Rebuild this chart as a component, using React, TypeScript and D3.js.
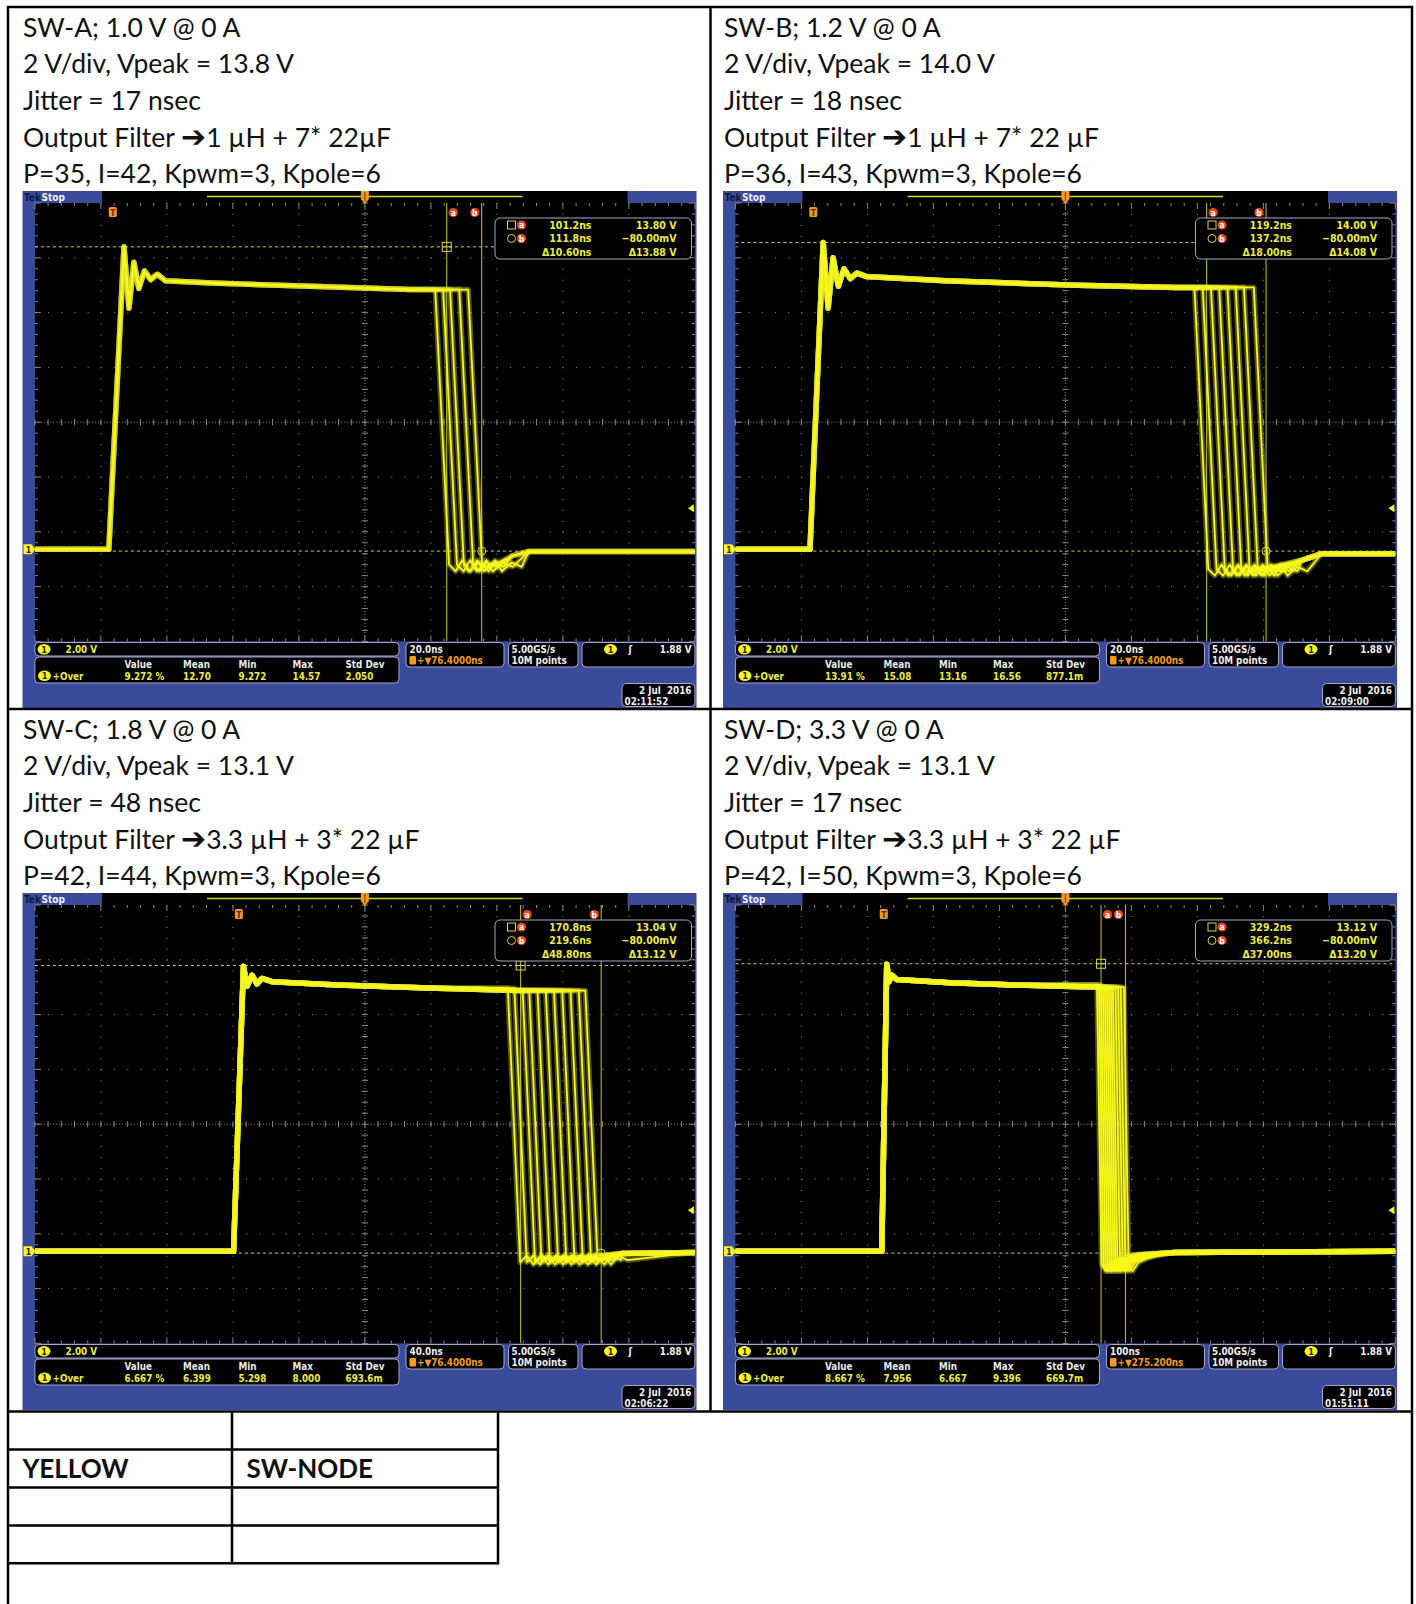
import React from "react";
import * as d3 from "d3";

type Pt = [number, number];

// ---------------- captions ----------------
const captionA = ["SW-A; 1.0 V @ 0 A", "2 V/div, Vpeak = 13.8 V", "Jitter = 17 nsec", "1 µH + 7* 22µF", "P=35, I=42, Kpwm=3, Kpole=6"];
const captionB = ["SW-B; 1.2 V @ 0 A", "2 V/div, Vpeak = 14.0 V", "Jitter = 18 nsec", "1 µH + 7* 22 µF", "P=36, I=43, Kpwm=3, Kpole=6"];
const captionC = ["SW-C; 1.8 V @ 0 A", "2 V/div, Vpeak = 13.1 V", "Jitter = 48 nsec", "3.3 µH + 3* 22 µF", "P=42, I=44, Kpwm=3, Kpole=6"];
const captionD = ["SW-D; 3.3 V @ 0 A", "2 V/div, Vpeak = 13.1 V", "Jitter = 17 nsec", "3.3 µH + 3* 22 µF", "P=42, I=50, Kpwm=3, Kpole=6"];

// ---------------- screen scales ----------------
const voltsPerDivScreen = 2.5;
const groundDivsFromTop = 6.32;
const triggerLevel = 1.88;

// ---------------- SW-A ----------------
const tDivA = 20, delayA = 76.4;
const riseA: Pt[] = [[-23.6, 0.0], [-1.2, 0.0], [3.4, 13.8], [4.9, 11.0], [6.4, 13.1], [7.9, 11.9], [9.6, 12.7], [11.5, 12.3], [13.5, 12.55], [16, 12.25], [30, 12.15], [60, 12.0], [90, 11.85], [115, 11.8]];
const fallsA = [97.7, 100.1, 102.2, 105.0, 107.7];
const fallDurA = 4.2;
const postA: Pt[] = [[0, -0.7], [2, -1.0], [4, -0.5], [6, -1.0], [9, -0.6], [12, -0.8]];
const tailA: Pt[] = [[121, -0.3], [126, -0.1], [176.4, -0.1]];
const cursorTA = [101.2, 111.8];
const cursorVA = [13.8, -0.08];
const readoutA = ["101.2ns", "111.8ns", "Δ10.60ns", "13.80 V", "−80.00mV", "Δ13.88 V"];
const measA = ["9.272 %", "12.70", "9.272", "14.57", "2.050"];
const hzA = ["20.0ns", "+▼76.4000ns"];
const dateA = ["2 Jul  2016", "02:11:52"];

// ---------------- SW-B ----------------
const tDivB = 20, delayB = 76.4;
const riseB: Pt[] = [[-23.6, 0.0], [-1.0, 0.0], [3.0, 14.0], [4.5, 11.0], [6.0, 13.3], [7.6, 12.0], [9.3, 12.8], [11.2, 12.35], [13.2, 12.6], [16, 12.45], [40, 12.25], [80, 12.05], [110, 11.95], [140, 11.9]];
const fallsB = [115.5, 118, 120.5, 123, 125.5, 128, 130.5, 133.5];
const fallDurB = 4.2;
const postB: Pt[] = [[0, -0.9], [2, -1.2], [4, -0.7], [6, -1.2], [9, -0.8], [12, -1.0]];
const tailB: Pt[] = [[148, -0.5], [154, -0.2], [176.4, -0.2]];
const cursorTB = [119.2, 137.2];
const cursorVB = [14.0, -0.08];
const readoutB = ["119.2ns", "137.2ns", "Δ18.00ns", "14.00 V", "−80.00mV", "Δ14.08 V"];
const measB = ["13.91 %", "15.08", "13.16", "16.56", "877.1m"];
const hzB = ["20.0ns", "+▼76.4000ns"];
const dateB = ["2 Jul  2016", "02:09:00"];

// ---------------- SW-C ----------------
const tDivC = 40, delayC = 76.4;
const riseC: Pt[] = [[-123.6, 0.0], [-3.2, 0.0], [2.8, 13.0], [5, 12.1], [8, 12.6], [11, 12.2], [14, 12.45], [20, 12.3], [60, 12.15], [120, 12.0], [170, 11.9], [215, 11.85]];
const fallsC = [163, 167, 172, 176, 181, 186, 191, 196, 201, 206, 210];
const fallDurC = 7.5;
const postC: Pt[] = [[0, -0.5], [4, -0.2], [8, -0.6], [13, -0.2], [18, -0.4]];
const tailC: Pt[] = [[232, -0.1], [276.4, -0.05]];
const cursorTC = [170.8, 219.6];
const cursorVC = [13.04, -0.08];
const readoutC = ["170.8ns", "219.6ns", "Δ48.80ns", "13.04 V", "−80.00mV", "Δ13.12 V"];
const measC = ["6.667 %", "6.399", "5.298", "8.000", "693.6m"];
const hzC = ["40.0ns", "+▼76.4000ns"];
const dateC = ["2 Jul  2016", "02:06:22"];

// ---------------- SW-D ----------------
const tDivD = 100, delayD = 275.2;
const riseD: Pt[] = [[-224.8, 0.0], [-3, 0.0], [4.5, 13.1], [8, 12.3], [12, 12.6], [20, 12.4], [100, 12.25], [200, 12.15], [330, 12.05], [370, 12.0]];
const fallsD = [323, 326, 329, 332, 335, 338, 341, 344, 347, 351, 355, 359, 364];
const fallDurD = 7;
const postD: Pt[] = [[0, -0.6], [6, -0.9], [15, -0.5], [30, -0.3], [50, -0.15]];
const tailD: Pt[] = [[440, -0.05], [775.2, 0.0]];
const cursorTD = [329.2, 366.2];
const cursorVD = [13.12, -0.08];
const readoutD = ["329.2ns", "366.2ns", "Δ37.00ns", "13.12 V", "−80.00mV", "Δ13.20 V"];
const measD = ["8.667 %", "7.956", "6.667", "9.396", "669.7m"];
const hzD = ["100ns", "+▼275.200ns"];
const dateD = ["2 Jul  2016", "01:51:11"];

const measHeaders = ["Value", "Mean", "Min", "Max", "Std Dev"];
const legendRows = [["", ""], ["YELLOW", "SW-NODE"], ["", ""], ["", ""]];

// ---------------- layout ----------------
const PW = 674, PH = 517;
const GL = 12.4, GT = 12, DIVW = 66, DIVH = 54.8;
const GR = GL + 10 * DIVW, GB = GT + 8 * DIVH;
const VTOP = groundDivsFromTop * voltsPerDivScreen;
const VBOT = -(8 - groundDivsFromTop) * voltsPerDivScreen;
const BLUE = "#3b4b9b";
const YEL = "#f8f81a";
const TXTY = "#ecec40";
const ORANGE = "#f39a1e";
const RED = "#e8461e";
const BOXSTROKE = "#a3a8c8";
const FS = "'DejaVu Sans Condensed', 'Liberation Sans Narrow', sans-serif";
const FD = "Lato, 'Open Sans', sans-serif";

function buildTrace(rise: Pt[], ts: number, dur: number, post: Pt[], tail: Pt[]): Pt[] {
  const before = rise.filter((d) => d[0] < ts);
  const top = before[before.length - 1][1];
  const te = ts + dur;
  const after: Pt[] = post.map((d) => [te + d[0], d[1]] as Pt);
  const last = after[after.length - 1][0];
  return [...before, [ts, top], ...after, ...tail.filter((d) => d[0] > last)];
}

type Cfg = {
  id: string; tdiv: number; delay: number; rise: Pt[]; falls: number[]; fallDur: number; post: Pt[]; tail: Pt[];
  ct: number[]; cv: number[]; readout: string[]; meas: string[]; hz: string[]; date: string[];
};

const panels: { x: number; y: number; cfg: Cfg }[] = [
  { x: 22.5, y: 191, cfg: { id: "A", tdiv: tDivA, delay: delayA, rise: riseA, falls: fallsA, fallDur: fallDurA, post: postA, tail: tailA, ct: cursorTA, cv: cursorVA, readout: readoutA, meas: measA, hz: hzA, date: dateA } },
  { x: 723, y: 191, cfg: { id: "B", tdiv: tDivB, delay: delayB, rise: riseB, falls: fallsB, fallDur: fallDurB, post: postB, tail: tailB, ct: cursorTB, cv: cursorVB, readout: readoutB, meas: measB, hz: hzB, date: dateB } },
  { x: 22.5, y: 893, cfg: { id: "C", tdiv: tDivC, delay: delayC, rise: riseC, falls: fallsC, fallDur: fallDurC, post: postC, tail: tailC, ct: cursorTC, cv: cursorVC, readout: readoutC, meas: measC, hz: hzC, date: dateC } },
  { x: 723, y: 893, cfg: { id: "D", tdiv: tDivD, delay: delayD, rise: riseD, falls: fallsD, fallDur: fallDurD, post: postD, tail: tailD, ct: cursorTD, cv: cursorVD, readout: readoutD, meas: measD, hz: hzD, date: dateD } },
];

function Badge({ cx, cy }: { cx: number; cy: number }) {
  return (
    <g>
      <ellipse cx={cx} cy={cy} rx={6.5} ry={5.2} fill={YEL} />
      <text x={cx} y={cy + 3.3} fontSize={9} fontWeight="bold" fill="#222" textAnchor="middle">1</text>
    </g>
  );
}

function RedMark({ cx, cy, ch }: { cx: number; cy: number; ch: string }) {
  return (
    <g>
      <circle cx={cx} cy={cy} r={4.6} fill={RED} />
      <text x={cx} y={cy + 3} fontSize={8.5} fontWeight="bold" fill="#fff" textAnchor="middle">{ch}</text>
    </g>
  );
}

function Scope({ x0, y0, p }: { x0: number; y0: number; p: Cfg }) {
  const xs = d3.scaleLinear().domain([p.delay - 5 * p.tdiv, p.delay + 5 * p.tdiv]).range([GL, GR]);
  const ys = d3.scaleLinear().domain([VBOT, VTOP]).range([GB, GT]);
  const line = d3.line<Pt>().x((d) => xs(d[0])).y((d) => ys(d[1]));
  const traces = p.falls.map((ts) => buildTrace(p.rise, ts, p.fallDur, p.post, p.tail));
  const clipId = "clip" + p.id;
  const minW = DIVW / 5, minH = DIVH / 5;
  const cx = GL + 5 * DIVW, cy = GT + 4 * DIVH;
  const gridC = "#8a8a8a";
  const xa = xs(p.ct[0]), xb = xs(p.ct[1]);
  const ya = ys(p.cv[0]), yb = ys(p.cv[1]);
  const x0t = xs(0);
  const yTrig = ys(triggerLevel);
  const yGnd = ys(0);
  const colX = [102, 160.5, 216, 270, 323];
  return (
    <g transform={`translate(${x0},${y0})`} fontFamily={FS}>
      <defs>
        <clipPath id={clipId}>
          <rect x={GL} y={GT} width={GR - GL} height={GB - GT} />
        </clipPath>
      </defs>
      <rect width={PW} height={PH} fill={BLUE} />
      <rect x={GL} y={GT} width={GR - GL} height={GB - GT} fill="#000" />
      {/* top bar */}
      <rect x={79.5} y={0} width={605 - 79.5} height={GT} fill="#000" />
      <line x1={184.5} x2={500} y1={5.5} y2={5.5} stroke="#d8d820" strokeWidth={1.6} />
      <text x={1.5} y={9.5} fontSize={10} fontWeight="bold" fill="#12163c">Tek</text>
      <text x={19} y={9.5} fontSize={10} fontWeight="bold" fill="#f2f2f2">Stop</text>
      {/* grid */}
      <g stroke={gridC} strokeWidth={1}>
        {d3.range(1, 10).filter((i) => i !== 5).map((i) => (
          <line key={"v" + i} x1={GL + i * DIVW} x2={GL + i * DIVW} y1={GT} y2={GB} strokeDasharray={`1 ${minH - 1}`} />
        ))}
        {d3.range(1, 8).filter((k) => k !== 4).map((k) => (
          <line key={"h" + k} x1={GL} x2={GR} y1={GT + k * DIVH} y2={GT + k * DIVH} strokeDasharray={`1 ${minW - 1}`} />
        ))}
        <line x1={cx} x2={cx} y1={GT} y2={GB} strokeDasharray="1 2" />
        <line x1={GL} x2={GR} y1={cy} y2={cy} strokeDasharray="1 2" />
        {d3.range(0, 41).map((j) => (
          <line key={"cvt" + j} x1={cx - 3} x2={cx + 3} y1={GT + j * minH} y2={GT + j * minH} />
        ))}
        {d3.range(0, 51).map((j) => (
          <line key={"cht" + j} x1={GL + j * minW} x2={GL + j * minW} y1={cy - 3} y2={cy + 3} />
        ))}
        {d3.range(0, 51).map((j) => (
          <g key={"et" + j}>
            <line x1={GL + j * minW} x2={GL + j * minW} y1={GT} y2={GT + (j % 5 === 0 ? 6 : 3)} />
            <line x1={GL + j * minW} x2={GL + j * minW} y1={GB} y2={GB - (j % 5 === 0 ? 6 : 3)} />
          </g>
        ))}
        {d3.range(0, 41).map((j) => (
          <g key={"ev" + j}>
            <line x1={GL} x2={GL + (j % 5 === 0 ? 6 : 3)} y1={GT + j * minH} y2={GT + j * minH} />
            <line x1={GR} x2={GR - (j % 5 === 0 ? 6 : 3)} y1={GT + j * minH} y2={GT + j * minH} />
          </g>
        ))}
      </g>
      {/* cursors */}
      <g clipPath={`url(#${clipId})`}>
        <line x1={GL} x2={GR} y1={ya} y2={ya} stroke="#d0d040" strokeWidth={1} strokeDasharray="3 3" />
        <line x1={GL} x2={GR} y1={yb} y2={yb} stroke="#d0d040" strokeWidth={1} strokeDasharray="3 3" />
        <line x1={xa} x2={xa} y1={GT} y2={GB} stroke="#c8c820" strokeWidth={1} />
        <line x1={xb} x2={xb} y1={GT} y2={GB} stroke="#c8c820" strokeWidth={1} />
        {/* traces */}
        {traces.map((t, i) => (
          <path key={"g" + i} d={line(t) || ""} fill="none" stroke="#f0f030" strokeOpacity={0.35} strokeWidth={5.5} strokeLinejoin="round" />
        ))}
        {traces.map((t, i) => (
          <path key={"t" + i} d={line(t) || ""} fill="none" stroke={YEL} strokeWidth={1.8} strokeLinejoin="round" />
        ))}
        <rect x={xa - 4.5} y={ya - 4.5} width={9} height={9} fill="none" stroke="#d8d840" strokeWidth={1} />
        <line x1={xa - 4.5} x2={xa + 4.5} y1={ya} y2={ya} stroke="#d8d840" />
        <circle cx={xb} cy={yb} r={4} fill="none" stroke="#d8d840" strokeWidth={1} />
      </g>
      {/* markers */}
      <RedMark cx={xa + 6.5} cy={21.5} ch="a" />
      <RedMark cx={xb - 7} cy={21.5} ch="b" />
      <rect x={x0t - 4} y={16} width={8} height={10} rx={1.5} fill={ORANGE} />
      <text x={x0t} y={24.5} fontSize={8.5} fontWeight="bold" fill="#5a2a00" textAnchor="middle">T</text>
      <path d={`M${cx - 4},0 h8 v8 l-4,5 l-4,-5 z`} fill={ORANGE} />
      <line x1={cx} x2={cx} y1={1} y2={10} stroke="#6a3a00" strokeWidth={1} />
      {/* ground marker */}
      <path d={`M1,${yGnd - 5} h8 l4,5 l-4,5 h-8 z`} fill={YEL} />
      <text x={6} y={yGnd + 3.3} fontSize={8.5} fontWeight="bold" fill="#222" textAnchor="middle">1</text>
      {/* trigger level marker */}
      <path d={`M${GR - 7},${yTrig} l6,-4 v8 z`} fill={YEL} />
      {/* readout box */}
      <rect x={472.5} y={27} width={196.5} height={41} rx={5} fill="#000" stroke={BOXSTROKE} strokeWidth={1} />
      <rect x={485} y={30} width={8} height={8} fill="none" stroke="#d8d840" strokeWidth={1} />
      <RedMark cx={499} cy={34} ch="a" />
      <circle cx={489} cy={47.5} r={4} fill="none" stroke="#d8d840" strokeWidth={1} />
      <RedMark cx={499} cy={47.5} ch="b" />
      <g fontSize={10.5} fontWeight="bold" fill={TXTY}>
        <text x={569} y={37.8} textAnchor="end">{p.readout[0]}</text>
        <text x={569} y={51.3} textAnchor="end">{p.readout[1]}</text>
        <text x={569} y={64.8} textAnchor="end">{p.readout[2]}</text>
        <text x={654} y={37.8} textAnchor="end">{p.readout[3]}</text>
        <text x={654} y={51.3} textAnchor="end">{p.readout[4]}</text>
        <text x={654} y={64.8} textAnchor="end">{p.readout[5]}</text>
      </g>
      {/* bottom info boxes */}
      <g fontSize={9.8} fontWeight="bold">
        <rect x={GL} y={451.5} width={376.5 - GL} height={13.5} rx={4} fill="#000" stroke={BOXSTROKE} strokeWidth={1} />
        <Badge cx={21.5} cy={458.2} />
        <text x={43} y={462} fill={TXTY}>2.00 V</text>
        <rect x={GL} y={466} width={376.5 - GL} height={26} rx={4} fill="#000" stroke={BOXSTROKE} strokeWidth={1} />
        {measHeaders.map((h, i) => (
          <text key={h} x={colX[i]} y={476.8} fill="#e8e8e8">{h}</text>
        ))}
        <Badge cx={22} cy={484.8} />
        <text x={30} y={488.5} fill={TXTY}>+Over</text>
        {p.meas.map((v, i) => (
          <text key={"m" + i} x={colX[i]} y={488.5} fill={TXTY}>{v}</text>
        ))}
        <rect x={383.5} y={451.5} width={98} height={24.5} rx={4} fill="#000" stroke={BOXSTROKE} strokeWidth={1} />
        <text x={387} y={461.5} fill="#eeeeee">{p.hz[0]}</text>
        <rect x={387} y={465} width={6.5} height={8.5} rx={1} fill={ORANGE} />
        <text x={394.5} y={473} fill={ORANGE}>{p.hz[1]}</text>
        <rect x={486} y={451.5} width={69.5} height={24.5} rx={4} fill="#000" stroke={BOXSTROKE} strokeWidth={1} />
        <text x={489} y={461.5} fill="#eeeeee">5.00GS/s</text>
        <text x={489} y={473} fill="#eeeeee">10M points</text>
        <rect x={559.5} y={451.5} width={GR - 559.5} height={24.5} rx={4} fill="#000" stroke={BOXSTROKE} strokeWidth={1} />
        <Badge cx={588} cy={458.2} />
        <text x={606} y={462} fill="#eeeeee">ʃ</text>
        <text x={669} y={462} fill="#eeeeee" textAnchor="end">1.88 V</text>
        <rect x={599.5} y={492.5} width={GR - 599.5} height={23} rx={4} fill="#000" stroke={BOXSTROKE} strokeWidth={1} />
        <text x={669} y={502.5} fill="#eeeeee" textAnchor="end" style={{ whiteSpace: "pre" }}>{p.date[0]}</text>
        <text x={602} y={513.5} fill="#eeeeee">{p.date[1]}</text>
      </g>
    </g>
  );
}

function Caption({ x, y, lines }: { x: number; y: number; lines: string[] }) {
  const base = [36.6, 73.3, 110, 146.7, 183.4];
  return (
    <g fontFamily={FD} fontSize={26.5} fill="#111">
      <text x={x} y={y + base[0]}>{lines[0]}</text>
      <text x={x} y={y + base[1]}>{lines[1]}</text>
      <text x={x} y={y + base[2]}>{lines[2]}</text>
      <text x={x} y={y + base[3]}>
        Output Filter{" "}
        <tspan fontFamily="'DejaVu Sans', sans-serif" fontSize={30} fontWeight="bold">➔</tspan>
        <tspan>{lines[3]}</tspan>
      </text>
      <text x={x} y={y + base[4]}>{lines[4]}</text>
    </g>
  );
}

export default function App() {
  const rowY = [1411.5, 1449.6, 1487.5, 1525.4, 1563.3];
  return (
    <svg width={1416} height={1604} style={{ position: "absolute", left: 0, top: 0, background: "#fff" }}>
      <rect width={1416} height={1604} fill="#fff" />
      <Caption x={23} y={0} lines={captionA} />
      <Caption x={724} y={0} lines={captionB} />
      <Caption x={23} y={702} lines={captionC} />
      <Caption x={724} y={702} lines={captionD} />
      {panels.map((pn) => (
        <Scope key={pn.cfg.id} x0={pn.x} y0={pn.y} p={pn.cfg} />
      ))}
      {/* table borders */}
      <g stroke="#000" strokeWidth={2.5} fill="none">
        <line x1={7} x2={1413} y1={7} y2={7} />
        <line x1={8} x2={8} y1={6} y2={1604} />
        <line x1={1412} x2={1412} y1={6} y2={1604} />
        <line x1={710.5} x2={710.5} y1={7} y2={1411.5} />
        <line x1={8} x2={1412} y1={709} y2={709} />
        <line x1={8} x2={1412} y1={1411.5} y2={1411.5} />
        {rowY.slice(1).map((y) => (
          <line key={y} x1={8} x2={498} y1={y} y2={y} />
        ))}
        <line x1={232} x2={232} y1={1411.5} y2={1563.3} />
        <line x1={498} x2={498} y1={1411.5} y2={1564.5} />
      </g>
      <g fontFamily={FD} fontWeight="bold" fontSize={26} fill="#111">
        {legendRows.map((r, i) => (
          <g key={i}>
            <text x={22.5} y={rowY[i] + 28}>{r[0]}</text>
            <text x={246.5} y={rowY[i] + 28}>{r[1]}</text>
          </g>
        ))}
      </g>
    </svg>
  );
}
